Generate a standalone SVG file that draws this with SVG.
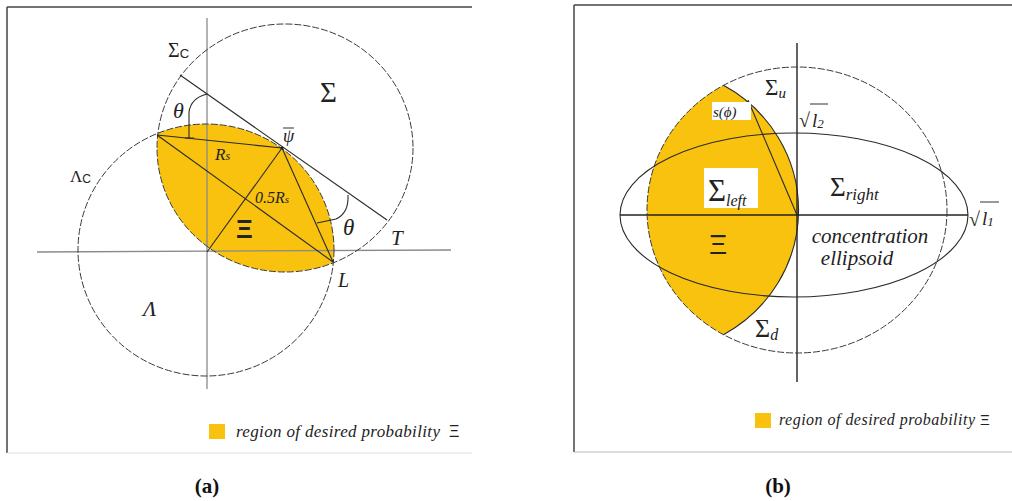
<svg xmlns="http://www.w3.org/2000/svg" width="1012" height="501" viewBox="0 0 1012 501">
<style>
.dash{fill:none;stroke:#3a3a3a;stroke-width:1;stroke-dasharray:7,2}
.ln{fill:none;stroke:#2a2a2a;stroke-width:1.1}
.ax{fill:none;stroke:#8a8a8a;stroke-width:1.3}
.axb{fill:none;stroke:#222;stroke-width:1.4}
.yl{fill:#F9C20F}
.t{font-family:"Liberation Serif",serif;fill:#222}
.i{font-style:italic}
.s{font-family:"Liberation Sans",sans-serif}
.xi{font-family:"Liberation Sans",sans-serif;fill:#222}
.cap{font-family:"Liberation Serif",serif;font-weight:bold;font-size:21px;fill:#111;text-anchor:middle}
</style>
<defs>
<clipPath id="clipSigma"><ellipse cx="285" cy="148" rx="128" ry="124"/></clipPath>
</defs>
<rect width="1012" height="501" fill="#fff"/>

<g id="panel-a">
 <g id="frame-a">
  <line x1="7" y1="7" x2="472" y2="7" stroke="#444" stroke-width="1.5"/>
  <line x1="7" y1="7" x2="7" y2="453" stroke="#444" stroke-width="1.5"/>
  <line x1="7" y1="453" x2="472" y2="453" stroke="#ddd" stroke-width="1.2"/>
 </g>
 <g id="region-xi-a">
  <ellipse class="yl" cx="206" cy="250" rx="128" ry="126" clip-path="url(#clipSigma)"/>
 </g>
 <g id="axes-a">
  <line class="ax" x1="207" y1="18" x2="207" y2="389"/>
  <line class="ax" x1="37" y1="252" x2="451" y2="250"/>
 </g>
 <g id="circle-sigma"><ellipse class="dash" cx="285" cy="148" rx="128" ry="124"/></g>
 <g id="circle-lambda"><ellipse class="dash" cx="206" cy="250" rx="128" ry="126"/></g>
 <g id="connectors-a">
  <line class="ln" x1="180" y1="75" x2="387" y2="220"/>
  <line class="ln" x1="157" y1="135" x2="282" y2="148"/>
  <line class="ln" x1="157" y1="135" x2="333" y2="262"/>
  <line class="ln" x1="207" y1="252" x2="282" y2="148"/>
  <line class="ln" x1="282" y1="148" x2="333" y2="262"/>
  <path class="ln" d="M207,94 Q191,98 189,112 L189,138 M185,138 L194,138"/>
  <path class="ln" d="M348,195 Q349,213 336,219 L317,223"/>
  <circle cx="282" cy="148" r="1.6" fill="#222"/>
 </g>
 <g id="labels-a">
  <text class="t" x="168" y="57" font-size="20">Σ<tspan class="s" font-size="13" dy="1">C</tspan></text>
  <text class="t" x="320" y="102" font-size="29">Σ</text>
  <text class="t i" x="173" y="118" font-size="22">θ</text>
  <text class="t i" x="283" y="142" font-size="18">ψ</text>
  <line x1="283" y1="128" x2="294" y2="128" stroke="#333" stroke-width="1"/>
  <text class="t i" x="215" y="160" font-size="17">R<tspan font-size="12">s</tspan></text>
  <text class="t i" x="255" y="203" font-size="16">0.5R<tspan font-size="11">s</tspan></text>
  <text class="xi" x="236" y="238" font-size="26" font-weight="bold">Ξ</text>
  <text class="t i" x="343" y="235" font-size="23">θ</text>
  <text class="t i" x="391" y="245" font-size="21">T</text>
  <text class="t i" x="338" y="287" font-size="20">L</text>
  <text class="t" x="70" y="182" font-size="17">Λ<tspan class="s" font-size="12" dy="1">C</tspan></text>
  <text class="t i" x="143" y="316" font-size="22">Λ</text>
 </g>
 <g id="legend-a">
  <rect class="yl" x="209" y="424" width="16" height="15"/>
  <text class="t i" x="236" y="437" font-size="17" textLength="204" lengthAdjust="spacing">region of desired probability</text>
  <text class="xi" x="449" y="437" font-size="16">Ξ</text>
 </g>
 <text class="cap" x="207" y="493">(a)</text>
</g>

<g id="panel-b">
 <g id="frame-b">
  <line x1="574" y1="5" x2="1012" y2="5" stroke="#444" stroke-width="1.5"/>
  <line x1="574" y1="5" x2="574" y2="452" stroke="#444" stroke-width="1.5"/>
  <line x1="574" y1="452" x2="1012" y2="452" stroke="#bbb" stroke-width="1.2"/>
 </g>
 <g id="region-xi-b">
  <path class="yl" d="M723.5,85.3 A147,143 0 0 1 723.5,334.7 A150,143 0 0 1 723.5,85.3 Z"/>
  <path class="ln" d="M723.5,85.3 A147,143 0 0 1 723.5,334.7"/>
 </g>
 <g id="axes-b">
  <line class="axb" x1="797" y1="43" x2="797" y2="382"/>
  <line class="axb" x1="620" y1="215" x2="968" y2="215"/>
 </g>
 <g id="circle-big"><ellipse class="dash" cx="797" cy="210" rx="150" ry="143" stroke-dasharray="12,1.5"/></g>
 <g id="ellipse-concentration"><ellipse class="ln" cx="794" cy="215" rx="174" ry="82"/></g>
 <g id="connectors-b">
  <line class="ln" x1="748" y1="100" x2="797" y2="215"/>
 </g>
 <g id="labels-b">
  <text class="t" x="765" y="95" font-size="23">Σ<tspan class="i" font-size="15" dy="3">u</tspan></text>
  <rect x="712" y="102" width="39" height="18" fill="#fff"/>
  <text class="t i" x="713" y="117" font-size="15">s(ϕ)</text>
  <text class="t" x="799" y="127" font-size="20">√</text>
  <line x1="810" y1="104" x2="828" y2="104" stroke="#333" stroke-width="1"/>
  <text class="t i" x="812" y="127" font-size="19">l<tspan font-size="13" dy="1">2</tspan></text>
  <rect x="704" y="168" width="54" height="40" fill="#fff"/>
  <text class="t" x="708" y="201" font-size="31">Σ<tspan class="i" font-size="16" dy="5">left</tspan></text>
  <text class="t" x="830" y="196" font-size="27">Σ<tspan class="i" font-size="17" dy="4">right</tspan></text>
  <text class="t" x="969" y="226" font-size="20">√</text>
  <line x1="980" y1="202" x2="999" y2="202" stroke="#333" stroke-width="1"/>
  <text class="t i" x="982" y="225" font-size="19">l<tspan font-size="13" dy="1">1</tspan></text>
  <text class="xi" x="709" y="254" font-size="28">Ξ</text>
  <text class="t i" x="870" y="243" font-size="21" text-anchor="middle">concentration</text>
  <text class="t i" x="857" y="265" font-size="21" text-anchor="middle">ellipsoid</text>
  <text class="t" x="755" y="337" font-size="26">Σ<tspan class="i" font-size="16" dy="3">d</tspan></text>
 </g>
 <g id="legend-b">
  <rect class="yl" x="755" y="413" width="16" height="15"/>
  <text class="t i" x="779" y="425" font-size="16" textLength="196" lengthAdjust="spacing">region of desired probability</text>
  <text class="xi" x="980" y="425" font-size="15">Ξ</text>
 </g>
 <text class="cap" x="778" y="493">(b)</text>
</g>
</svg>
